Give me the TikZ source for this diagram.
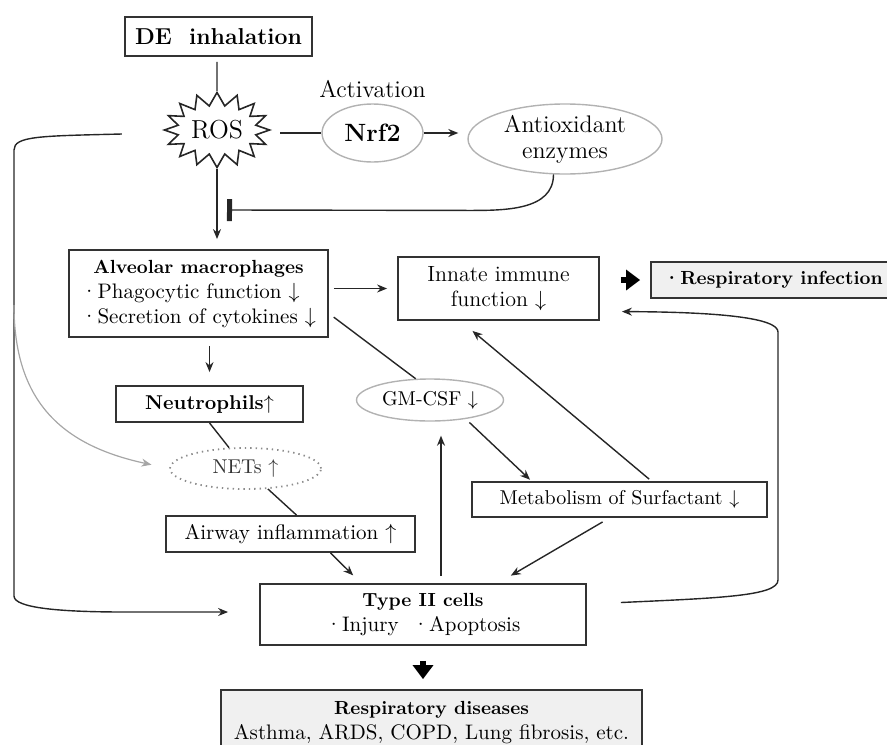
\documentclass[tikz,border=0pt]{standalone}
\usepackage{tikz}
\usetikzlibrary{arrows.meta,positioning,shapes.geometric,shapes.symbols}

\begin{document}
\begin{tikzpicture}[x=0.5pt,y=-0.5pt,>={Stealth[length=5pt,width=4pt]},
  box/.style={draw=black!80,line width=0.9pt,align=center,inner sep=0pt,font=\fontsize{10.5}{12.5}\selectfont},
  oval/.style={ellipse,draw=black!30,line width=0.7pt,inner sep=0pt,align=center,font=\fontsize{10.5}{12.5}\selectfont},
  link/.style={draw=black!85,line width=0.7pt},
  bigarrow/.style={draw=black,line width=3pt,-{Triangle[length=7pt,width=10pt]}},
  lab/.style={font=\fontsize{12}{14}\selectfont}]

\useasboundingbox (0,0) rectangle (887,744);

% top: exposure and oxidative stress
\node[box,font=\fontsize{11.5}{14}\selectfont\bfseries,minimum width=93.5pt,minimum height=19.5pt] (de) at (218.5,36.5) {DE\ \ inhalation};
\node[starburst,draw=black!85,line width=0.8pt,starburst points=16,starburst point height=6.5pt,random starburst=0,inner sep=1pt,minimum width=52pt,minimum height=37.5pt,font=\fontsize{13}{15}\selectfont] (ros) at (217,130) {ROS};
\node[oval,minimum width=50.5pt,minimum height=29pt,font=\fontsize{12.5}{14}\selectfont\bfseries] (nrf) at (372.5,133) {Nrf2};
\node[lab,above=-1pt of nrf] (act) {Activation};
\node[oval,minimum width=97pt,minimum height=35pt,font=\fontsize{12}{13}\selectfont] (anti) at (565,139) {Antioxidant\\enzymes};
\coordinate (inh) at (227,210);
\coordinate (lcorner) at (14,305);

% cells and effects
\node[box,minimum width=129.5pt,minimum height=43.5pt] (am) at (198.5,293.5) {\begin{tabular}{@{}l@{}}\multicolumn{1}{@{}c@{}}{\fontsize{9.5}{12.5}\selectfont\bfseries Alveolar macrophages}\\ ·Phagocytic function $\downarrow$\\ ·Secretion of cytokines $\downarrow$\end{tabular}};
\node[box,minimum width=100.5pt,minimum height=31.5pt,font=\fontsize{11}{12.5}\selectfont] (inn) at (498.5,288.5) {Innate immune\\function $\downarrow$};
\node[box,fill=gray!12,minimum width=122pt,minimum height=18pt,font=\fontsize{9.5}{12}\selectfont\bfseries] (rinf) at (773,280) {·Respiratory infection};
\node[box,minimum width=93.5pt,minimum height=18pt,font=\fontsize{10}{12}\selectfont\bfseries] (neu) at (209.5,404) {Neutrophils$\uparrow$};
\node[oval,draw=black!45,dotted,line width=0.9pt,minimum width=75.5pt,minimum height=20.5pt,font=\fontsize{10}{12}\selectfont\color{black!80}] (net) at (245.5,468.5) {NETs $\uparrow$};
\node[oval,minimum width=73.5pt,minimum height=21pt,font=\fontsize{10}{12}\selectfont] (gm) at (430,400) {GM-CSF $\downarrow$};
\node[box,minimum width=124.5pt,minimum height=18pt] (air) at (290.5,534) {Airway inflammation $\uparrow$};
\node[box,minimum width=147.5pt,minimum height=17.5pt,font=\fontsize{10}{12}\selectfont] (met) at (619.5,499.5) {Metabolism of Surfactant $\downarrow$};
\node[box,minimum width=163pt,minimum height=30.5pt] (t2) at (423,614.5) {{\fontsize{9.5}{12.5}\selectfont\bfseries Type II cells}\\·Injury\ \ ·Apoptosis};
\node[box,fill=gray!12,minimum width=210.5pt,minimum height=33pt] (rdis) at (431.5,723) {{\fontsize{9.5}{12.5}\selectfont\bfseries Respiratory diseases}\\Asthma, ARDS, COPD, Lung fibrosis, etc.};

% connectors
\draw[link,shorten <=2.5pt] (ros |- de.south) -- (ros.north);
\draw[link,->,shorten >=5pt] (ros.south) -- (ros.south |- am.north);
\draw[link,shorten <=4pt] (ros.east |- nrf.west) -- (nrf.west);
\draw[link,->,shorten >=4.5pt] (nrf.east) -- (nrf.east -| anti.west);
\draw[link,-{Bar[width=11pt,line width=2.5pt]}] (anti.252) to[out=-90,in=0] ++(-85,36) -- (inh);
\draw[link,->,shorten >=15.5pt] ([xshift=-20pt,yshift=-2pt]ros.west) .. controls (40,136) and (14,136) .. (14,150) -- (14,596) .. controls (14,608) and (60,612) .. (125,612) -- (t2.west |- 0,612);
\draw[gray!70,line width=0.6pt,->,shorten >=9pt] (lcorner) .. controls (14,400) and (60,445) .. (net.west);
\draw[link,->,shorten <=2.5pt,shorten >=5pt] (am.east |- inn.west) -- (inn.west);
\draw[bigarrow,shorten <=10.5pt,shorten >=5pt] (inn.east |- rinf.west) -- (rinf.west);
\draw[link,->,shorten <=4pt,shorten >=6.5pt] (neu.north |- am.south) -- (neu.north);
\draw[link] (neu.south) -- (net);
\draw[link] (net) -- ([xshift=3pt]air.north);
\draw[link,->,shorten >=5.5pt] ([xshift=20pt]air.south) -- ([xshift=-31pt]t2.north);
\draw[link,->,shorten <=4pt,shorten >=7.4pt] ([xshift=-5pt]met.south) -- ([xshift=37.5pt]t2.north);
\draw[link,->,shorten <=3.5pt,shorten >=7pt] ([xshift=9pt]t2.north) -- ([xshift=9pt]t2.north |- gm.south);
\draw[link,shorten <=3pt] ([yshift=-10pt]am.east) -- (gm.124);
\draw[link,->,shorten <=2.5pt,shorten >=1pt] (gm.-28) -- ([xshift=-44pt]met.north);
\draw[link,->,shorten <=1.5pt,shorten >=7.8pt] ([xshift=16pt]met.north) -- ([xshift=-19pt]inn.south);
\draw[link,->,shorten >=11pt] ([xshift=17pt,yshift=6pt]t2.east) .. controls (720,598) and (778,596) .. (778,580) -- (778,332) .. controls (778,318) and (720,312) .. ([yshift=-11.5pt]inn.east);
\draw[bigarrow,shorten <=7.5pt,shorten >=5pt] (t2.south) -- (t2.south |- rdis.north);
\end{tikzpicture}
\end{document}
